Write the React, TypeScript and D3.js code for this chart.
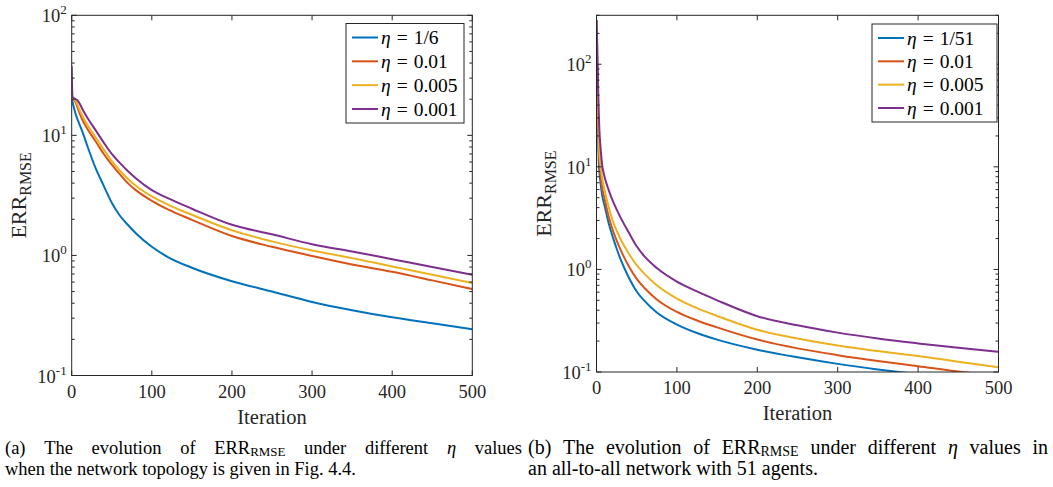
import React from "react";
import * as d3 from "d3";

const COLORS = ["#0072BD", "#D95319", "#EDB120", "#7E2F8E"];
const xTicks = [0, 100, 200, 300, 400, 500];

// Panel (a)
const iterA = [0, 1, 2, 5, 8, 10, 15, 20, 30, 40, 50, 60, 70, 80, 100, 120, 150, 200, 250, 300, 350, 400, 450, 500];
const a_eta1_6 = [20.3, 19.0, 17.8, 15.0, 13.2, 12.2, 10.0, 8.0, 5.3, 3.8, 2.75, 2.15, 1.8, 1.53, 1.18, 0.97, 0.79, 0.61, 0.5, 0.41, 0.35, 0.305, 0.272, 0.243];
const a_eta01 = [20.3, 20.2, 20.0, 18.8, 16.5, 15.2, 12.8, 11.2, 8.9, 7.0, 5.7, 4.75, 4.0, 3.5, 2.85, 2.42, 1.98, 1.45, 1.18, 0.99, 0.84, 0.73, 0.62, 0.525];
const a_eta005 = [20.3, 20.3, 20.2, 19.3, 17.5, 16.2, 13.8, 12.1, 9.6, 7.6, 6.1, 5.1, 4.35, 3.8, 3.1, 2.65, 2.18, 1.62, 1.31, 1.1, 0.95, 0.81, 0.69, 0.59];
const a_eta001 = [38, 21.0, 20.6, 20.0, 19.3, 18.3, 15.8, 13.9, 11.0, 8.7, 7.0, 5.9, 5.05, 4.4, 3.5, 3.0, 2.45, 1.8, 1.5, 1.24, 1.08, 0.93, 0.8, 0.69];
const legendA = ["1/6", "0.01", "0.005", "0.001"];

// Panel (b)
const iterB = [0, 1, 2, 3, 4, 5, 7, 10, 15, 20, 25, 30, 40, 50, 60, 75, 100, 125, 150, 200, 250, 300, 350, 400, 450, 500];
const b_eta1_51 = [270, 60, 20, 10.5, 8.3, 7.0, 5.3, 4.2, 2.85, 2.1, 1.6, 1.25, 0.84, 0.61, 0.49, 0.38, 0.29, 0.24, 0.207, 0.165, 0.139, 0.12, 0.106, 0.095, 0.086, 0.079];
const b_eta01 = [270, 80, 30, 14, 10.5, 8.5, 6.3, 4.9, 3.3, 2.45, 1.92, 1.55, 1.08, 0.81, 0.655, 0.51, 0.385, 0.318, 0.272, 0.207, 0.17, 0.146, 0.128, 0.114, 0.101, 0.092];
const b_eta005 = [270, 90, 35, 17, 12.5, 10.5, 7.8, 6.0, 4.1, 3.0, 2.4, 1.97, 1.43, 1.1, 0.9, 0.7, 0.52, 0.42, 0.352, 0.258, 0.212, 0.181, 0.16, 0.143, 0.126, 0.111];
const b_eta001 = [270, 150, 60, 30, 20, 15.5, 10.5, 8.0, 6.0, 4.7, 3.85, 3.2, 2.3, 1.68, 1.33, 1.03, 0.76, 0.61, 0.5, 0.35, 0.285, 0.242, 0.212, 0.19, 0.172, 0.157];
const legendB = ["1/51", "0.01", "0.005", "0.001"];

const captionA1 = ["(a)", "The", "evolution", "of", "ERR|RMSE", "under", "different", "*η", "values"];
const captionA2 = "when the network topology is given in Fig. 4.4.";
const captionB1 = ["(b)", "The", "evolution", "of", "ERR|RMSE", "under", "different", "*η", "values", "in"];
const captionB2 = "an all-to-all network with 51 agents.";

const FONT = "'Liberation Serif', 'Times New Roman', serif";
const AX = "#262626";

let ctx: CanvasRenderingContext2D | null = null;
function measure(text: string, size: number, italic = false) {
  if (!ctx) ctx = document.createElement("canvas").getContext("2d");
  if (!ctx) return text.length * size * 0.45;
  ctx.font = `${italic ? "italic " : ""}${size}px 'Liberation Serif'`;
  return ctx.measureText(text).width;
}

function logTicks(min: number, max: number) {
  const out: { v: number; major: boolean; exp: number }[] = [];
  for (let k = -3; k <= 4; k++) {
    for (let m = 1; m <= 9; m++) {
      const v = m * Math.pow(10, k);
      if (v >= min * 0.9999 && v <= max * 1.0001) out.push({ v, major: m === 1, exp: k });
    }
  }
  return out;
}

type PanelProps = {
  id: string;
  left: number;
  right: number;
  top: number;
  bottom: number;
  yMin: number;
  yMax: number;
  iters: number[];
  series: number[][];
  labels: string[];
  legendBox: { x: number; y: number; w: number; h: number };
};

function Panel(p: PanelProps) {
  const x = d3.scaleLinear().domain([0, 500]).range([p.left, p.right]);
  const y = d3.scaleLog().domain([p.yMin, p.yMax]).range([p.bottom, p.top]);
  const line = d3
    .line<[number, number]>()
    .x((d) => x(d[0]))
    .y((d) => y(d[1]))
    .curve(d3.curveMonotoneX);
  const yt = logTicks(p.yMin, p.yMax);
  const cx = (p.left + p.right) / 2;
  const cy = (p.top + p.bottom) / 2;
  const lb = p.legendBox;
  const step = (lb.h - 28) / 3;
  return (
    <g>
      <defs>
        <clipPath id={p.id}>
          <rect x={p.left} y={p.top} width={p.right - p.left} height={p.bottom - p.top} />
        </clipPath>
      </defs>
      <g clipPath={`url(#${p.id})`}>
        {p.series.map((s, i) => (
          <path
            key={i}
            d={line(p.iters.map((it, j) => [it, s[j]] as [number, number])) || ""}
            fill="none"
            stroke={COLORS[i]}
            strokeWidth={2}
            strokeLinejoin="round"
          />
        ))}
      </g>
      <rect x={p.left} y={p.top} width={p.right - p.left} height={p.bottom - p.top} fill="none" stroke={AX} strokeWidth={1} />
      {xTicks.map((t) => (
        <g key={t}>
          <line x1={x(t)} x2={x(t)} y1={p.bottom} y2={p.bottom - 5} stroke={AX} />
          <line x1={x(t)} x2={x(t)} y1={p.top} y2={p.top + 5} stroke={AX} />
          <text x={x(t)} y={p.bottom + 22} textAnchor="middle" fontFamily={FONT} fontSize={18.5} fill={AX}>
            {t}
          </text>
        </g>
      ))}
      {yt.map((t, i) => (
        <g key={i}>
          <line x1={p.left} x2={p.left + (t.major ? 5 : 3)} y1={y(t.v)} y2={y(t.v)} stroke={AX} />
          <line x1={p.right} x2={p.right - (t.major ? 5 : 3)} y1={y(t.v)} y2={y(t.v)} stroke={AX} />
          {t.major && (
            <text x={p.left - 5} y={y(t.v) + 7} textAnchor="end" fontFamily={FONT} fontSize={18.5} fill={AX}>
              10
              <tspan fontSize={13} dy={-8}>
                {String(t.exp)}
              </tspan>
            </text>
          )}
        </g>
      ))}
      <text x={cx} y={p.bottom + 48} textAnchor="middle" fontFamily={FONT} fontSize={20.5} fill={AX}>
        Iteration
      </text>
      <text
        transform={`translate(${p.left - 46},${cy}) rotate(-90)`}
        textAnchor="middle"
        fontFamily={FONT}
        fontSize={22}
        fill={AX}
      >
        ERR
        <tspan fontSize={16} dy={5}>
          RMSE
        </tspan>
      </text>
      <rect x={lb.x} y={lb.y} width={lb.w} height={lb.h} fill="#fff" stroke={AX} strokeWidth={1} />
      {p.labels.map((lab, i) => {
        const ly = lb.y + 14 + i * step;
        return (
          <g key={i}>
            <line x1={lb.x + 6} x2={lb.x + 32} y1={ly} y2={ly} stroke={COLORS[i]} strokeWidth={2} />
            <text x={lb.x + 35} y={ly + 6.5} fontFamily={FONT} fontSize={19.5} fill="#000">
              <tspan fontStyle="italic">η</tspan>
              <tspan dx={6}>=</tspan>
              <tspan dx={6}>{lab}</tspan>
            </text>
          </g>
        );
      })}
    </g>
  );
}

function Caption({ x, y, words, line2, width, size }: { x: number; y: number; words: string[]; line2: string; width: number; size: number }) {
  const sub = size * 0.7;
  const wordWidth = (w: string) => {
    if (w.startsWith("*")) return measure(w.slice(1), size, true);
    if (w.includes("|")) {
      const [a, b] = w.split("|");
      return measure(a, size) + measure(b, sub);
    }
    return measure(w, size);
  };
  const widths = words.map(wordWidth);
  const total = widths.reduce((s, v) => s + v, 0);
  const gap = (width - total) / (words.length - 1);
  let cur = x;
  const pos = widths.map((w) => {
    const p0 = cur;
    cur += w + gap;
    return p0;
  });
  return (
    <g fontFamily={FONT} fontSize={size} fill="#000">
      {words.map((w, i) => {
        if (w.startsWith("*"))
          return (
            <text key={i} x={pos[i]} y={y} fontStyle="italic">
              {w.slice(1)}
            </text>
          );
        if (w.includes("|")) {
          const [a, b] = w.split("|");
          return (
            <text key={i} x={pos[i]} y={y}>
              {a}
              <tspan fontSize={sub} dy={2}>
                {b}
              </tspan>
            </text>
          );
        }
        return (
          <text key={i} x={pos[i]} y={y}>
            {w}
          </text>
        );
      })}
      <text x={x} y={y + 21}>
        {line2}
      </text>
    </g>
  );
}

export default function App() {
  return (
    <div style={{ position: "absolute", left: 0, top: 0 }}>
      <svg width={1053} height={487} style={{ display: "block", background: "#fff" }}>
        <Panel
          id="clipA"
          left={71.7}
          right={472.3}
          top={15.3}
          bottom={375.5}
          yMin={0.1}
          yMax={100}
          iters={iterA}
          series={[a_eta1_6, a_eta01, a_eta005, a_eta001]}
          labels={legendA}
          legendBox={{ x: 346, y: 23.5, w: 118, h: 99.5 }}
        />
        <Panel
          id="clipB"
          left={596.5}
          right={998.5}
          top={15.3}
          bottom={372}
          yMin={0.1}
          yMax={300}
          iters={iterB}
          series={[b_eta1_51, b_eta01, b_eta005, b_eta001]}
          labels={legendB}
          legendBox={{ x: 872, y: 24, w: 125, h: 98 }}
        />
        <Caption x={5} y={454} words={captionA1} line2={captionA2} width={517} size={18.5} />
        <Caption x={528} y={454} words={captionB1} line2={captionB2} width={520} size={20} />
      </svg>
    </div>
  );
}
